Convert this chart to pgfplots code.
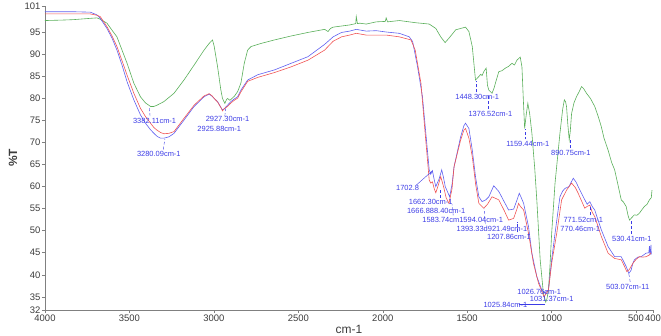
\documentclass[border=0pt]{standalone}
\usepackage{fontspec}
\setmainfont{Liberation Sans}
\usepackage{pgfplots}
\pgfplotsset{compat=1.18}
\definecolor{cgreen}{RGB}{90,175,90}
\definecolor{cblue}{RGB}{95,95,240}
\definecolor{cred}{RGB}{240,85,85}
\definecolor{annot}{RGB}{60,60,230}
\definecolor{axgray}{RGB}{128,128,128}
\definecolor{tickgray}{RGB}{60,60,60}
\begin{document}
\begin{tikzpicture}
\begin{axis}[
  scale only axis, width=608bp, height=304bp,
  x dir=reverse, xmin=400, xmax=4000, ymin=32, ymax=101,
  axis x line*=bottom, axis y line*=left,
  axis line style={draw=axgray, line width=0.6pt, -},
  xtick={4000,3500,3000,2500,2000,1500,1000,500,400},
  ytick={32,35,40,45,50,55,60,65,70,75,80,85,90,95,101},
  tick style={draw=axgray, line width=0.5pt}, tick align=outside, major tick length=3bp,
  /pgf/number format/assume math mode=true,
  /pgf/number format/1000 sep={}, scaled ticks=false,
  tick label style={font=\fontsize{9.5}{10}\selectfont, text=tickgray},
  xticklabel style={inner sep=1.5pt},
  yticklabel style={inner sep=1.5pt},
  xlabel={cm-1}, ylabel={\textbf{\%T}},
  xlabel style={font=\fontsize{12}{13}\selectfont, text=tickgray, at={(axis description cs:0.5,-0.0625)}, anchor=center},
  ylabel style={font=\fontsize{12}{13}\selectfont, text=tickgray, at={(axis description cs:-0.0526,0.5)}, anchor=center},
  clip=false,
]
\coordinate (SW) at (rel axis cs:0,0);
\coordinate (NE) at (rel axis cs:1,1);
\addplot[cgreen, line width=0.6pt] coordinates {
(4000,97.7)(3900,97.8)(3832,97.9)(3732,98.2)(3693,98.3)(3673,98.0)(3633,97.1)(3603,95.5)(3574,94.0)(3544,91.0)(3514,88.0)(3474,83.5)(3435,80.4)(3405,79.0)(3375,78.2)(3355,78.2)(3336,78.5)(3316,78.9)(3296,79.3)(3236,81.2)(3177,84.2)(3117,87.6)(3058,91.0)(3028,92.5)(3008,93.3)(2998,91.8)(2978,87.2)(2959,82.0)(2949,80.0)(2935,78.9)(2925,79.8)(2919,80.0)(2905,79.6)(2899,79.8)(2879,80.5)(2859,81.6)(2840,83.5)(2820,88.0)(2800,91.0)(2780,91.8)(2721,92.5)(2641,93.3)(2542,94.2)(2443,95.0)(2344,95.7)(2324,95.2)(2310,95.9)(2294,96.2)(2196,96.7)(2160,97.0)(2157,98.6)(2150,97.0)(2137,97.1)(2098,96.9)(2039,97.4)(1985,97.5)(1980,98.3)(1972,97.4)(1902,97.7)(1804,97.2)(1725,96.9)(1686,95.9)(1657,94.0)(1631,92.7)(1608,93.7)(1568,95.6)(1510,96.2)(1490,95.2)(1470,91.8)(1451,84.2)(1441,84.6)(1431,85.0)(1420,85.5)(1412,85.2)(1402,86.1)(1388,86.9)(1380,83.0)(1372,81.9)(1353,81.2)(1340,82.5)(1333,83.5)(1313,86.1)(1295,86.3)(1274,86.9)(1255,87.3)(1235,88.0)(1220,87.6)(1206,88.7)(1186,89.4)(1176,87.2)(1168,80.0)(1160,73.2)(1150,76.5)(1141,78.9)(1130,76.5)(1117,72.1)(1100,64.0)(1088,57.0)(1068,43.4)(1049,35.8)(1035,33.8)(1028,34.5)(1019,36.5)(1010,42.0)(1000,49.4)(980,60.8)(951,72.1)(935,77.5)(925,79.7)(918,79.3)(912,78.2)(904,74.0)(896,70.6)(890,72.5)(882,76.6)(868,79.0)(853,80.4)(838,81.5)(823,82.7)(810,82.2)(794,81.2)(770,80.0)(745,78.2)(725,76.0)(706,73.6)(690,71.0)(666,68.3)(645,65.5)(627,63.8)(605,60.0)(588,57.0)(575,56.5)(559,55.5)(548,53.5)(539,52.4)(525,53.0)(510,53.6)(495,53.5)(480,54.0)(465,54.8)(451,55.5)(435,56.0)(421,57.0)(410,57.5)(406,59.2)
};
\addplot[cblue, line width=0.6pt] coordinates {
(4000,99.7)(3832,99.7)(3732,99.6)(3693,99.0)(3673,98.2)(3633,95.9)(3603,93.7)(3574,91.0)(3544,87.6)(3514,83.8)(3474,79.7)(3435,76.3)(3405,74.4)(3375,72.9)(3355,72.1)(3336,71.4)(3316,71.0)(3296,71.0)(3266,71.3)(3236,72.1)(3177,75.1)(3117,78.2)(3058,80.4)(3028,81.0)(3010,80.5)(2998,80.0)(2978,79.3)(2959,78.0)(2949,77.4)(2935,77.8)(2919,78.5)(2899,79.3)(2879,79.9)(2859,80.4)(2840,81.9)(2800,84.2)(2740,85.4)(2641,86.5)(2542,88.0)(2443,89.5)(2344,92.3)(2294,94.0)(2244,95.0)(2196,95.3)(2157,95.7)(2098,95.3)(2039,95.4)(1980,95.1)(1902,94.8)(1843,94.0)(1823,92.9)(1794,87.2)(1765,80.4)(1745,72.1)(1725,63.8)(1716,62.8)(1706,63.6)(1695,61.5)(1686,60.0)(1666,61.8)(1651,63.8)(1640,62.0)(1630,60.0)(1604,57.7)(1590,60.5)(1578,64.5)(1539,71.3)(1520,73.8)(1510,74.4)(1490,73.2)(1470,68.3)(1450,62.0)(1431,57.7)(1412,56.6)(1390,57.0)(1372,57.7)(1343,60.2)(1313,58.9)(1280,56.5)(1255,54.7)(1225,54.9)(1205,57.0)(1192,58.5)(1180,57.5)(1166,56.2)(1137,50.9)(1117,44.9)(1088,39.6)(1059,36.6)(1039,35.8)(1019,36.6)(1000,43.4)(980,49.4)(951,57.7)(935,59.0)(921,59.6)(898,60.0)(872,61.9)(855,61.0)(843,60.0)(813,57.7)(790,56.0)(774,56.6)(760,55.5)(745,54.7)(706,50.2)(666,46.4)(627,44.1)(588,44.1)(559,41.9)(543,40.3)(530,41.0)(519,42.6)(510,43.4)(490,44.0)(470,44.1)(441,44.9)(425,45.0)(421,46.5)(418,44.5)(412,46.8)(410,44.6)
};
\addplot[cred, line width=0.6pt] coordinates {
(4000,99.2)(3832,99.2)(3732,99.2)(3693,98.9)(3673,98.6)(3633,96.3)(3603,94.2)(3574,91.8)(3544,88.6)(3514,85.3)(3474,81.2)(3435,77.8)(3405,75.9)(3375,74.4)(3355,73.4)(3336,72.8)(3316,72.3)(3296,72.0)(3266,72.1)(3236,72.5)(3177,75.5)(3117,78.5)(3058,80.6)(3028,81.1)(3010,80.6)(2998,80.0)(2978,79.2)(2959,78.0)(2949,77.2)(2935,77.8)(2919,78.2)(2899,79.0)(2879,79.6)(2859,80.1)(2840,81.5)(2800,83.9)(2740,84.8)(2641,85.9)(2542,87.2)(2443,88.7)(2344,91.0)(2294,93.0)(2244,94.0)(2196,94.4)(2157,94.8)(2098,94.4)(1980,94.4)(1902,94.0)(1833,93.3)(1808,91.0)(1774,83.5)(1749,72.1)(1725,61.5)(1716,60.8)(1706,61.1)(1695,59.5)(1686,58.6)(1670,60.5)(1657,62.3)(1640,60.0)(1625,57.5)(1608,56.2)(1590,59.5)(1578,64.5)(1539,70.6)(1520,72.8)(1510,73.2)(1490,71.0)(1470,66.8)(1450,60.5)(1431,56.2)(1402,55.1)(1380,56.0)(1353,57.7)(1313,57.0)(1280,54.5)(1255,52.4)(1225,52.8)(1205,55.0)(1196,56.2)(1185,55.5)(1166,54.7)(1137,49.4)(1108,42.6)(1078,38.1)(1045,35.0)(1019,36.5)(1000,42.6)(970,49.4)(941,57.0)(912,59.2)(882,60.8)(860,59.8)(843,58.5)(804,55.1)(790,55.5)(774,55.8)(760,54.2)(745,53.2)(706,48.7)(666,44.9)(627,43.7)(588,43.4)(570,42.0)(555,40.7)(540,41.2)(519,42.6)(500,43.5)(480,44.1)(460,44.0)(441,44.1)(421,44.5)(412,45.0)
};
% leader lines
\begin{scope}[annot, line width=0.4pt, densely dashed]
\draw (axis cs:3378,76.0) -- (axis cs:3382,78.0);
\draw (axis cs:3300,68.4) -- (axis cs:3290,70.8);
\draw (axis cs:2935,76.0) -- (axis cs:2930,78.3);
\draw (axis cs:1448,81.4) -- (axis cs:1448,84.0);
\draw (axis cs:1376,77.7) -- (axis cs:1376,81.0);
\draw (axis cs:1159,70.7) -- (axis cs:1159,73.0);
\draw (axis cs:890,68.7) -- (axis cs:890,70.5);
\draw (axis cs:1662,57.5) -- (axis cs:1662,59.5);
\draw (axis cs:1583,53.5) -- (axis cs:1590,56.0);
\draw (axis cs:1393,51.5) -- (axis cs:1400,55.0);
\draw (axis cs:1207,49.6) -- (axis cs:1207,52.0);
\draw (axis cs:771,53.5) -- (axis cs:771,55.5);
\draw (axis cs:530,49.2) -- (axis cs:530,52.2);
\draw (axis cs:535,38.4) -- (axis cs:543,40.2);
\end{scope}
\draw[annot, line width=0.4pt] (axis cs:1800,60.4) -- (axis cs:1706,63.6);
\draw[annot, line width=0.4pt] (axis cs:1195,33.3) -- (axis cs:1040,33.3);
% annotations
\begin{scope}[every node/.style={font=\fontsize{7.5}{8}\selectfont, text=annot, inner sep=0pt}]
\node at (axis cs:3351,75.0) {3382.11cm-1};
\node at (axis cs:3326,67.4) {3280.09cm-1};
\node at (axis cs:2919,75.3) {2927.30cm-1};
\node at (axis cs:2968,73.1) {2925.88cm-1};
\node at (axis cs:1441,80.3) {1448.30cm-1};
\node at (axis cs:1363,76.6) {1376.52cm-1};
\node at (axis cs:1141,69.6) {1159.44cm-1};
\node at (axis cs:886,67.6) {890.75cm-1};
\node at (axis cs:1853,59.8) {1702.8};
\node at (axis cs:1716,56.5) {1662.30cm-1};
\node at (axis cs:1684,54.5) {1666.888.40cm-1};
\node at (axis cs:1527,52.4) {1583.74cm1594.04cm-1};
\node at (axis cs:1353,50.4) {1393.33d921.49cm-1};
\node at (axis cs:1253,48.5) {1207.86cm-1};
\node at (axis cs:813,52.4) {771.52cm-1};
\node at (axis cs:831,50.3) {770.46cm-1};
\node at (axis cs:525,48.1) {530.41cm-1};
\node at (axis cs:550,37.3) {503.07cm-11};
\node at (axis cs:1074,36.1) {1026.76cm-1};
\node at (axis cs:1000,34.4) {1031.37cm-1};
\node at (axis cs:1274,33.1) {1025.84cm-1};
\end{scope}
\end{axis}
\pgfresetboundingbox
\useasboundingbox ([shift={(-45bp,-26bp)}]SW) rectangle ([shift={(8bp,6bp)}]NE);
\end{tikzpicture}
\end{document}
